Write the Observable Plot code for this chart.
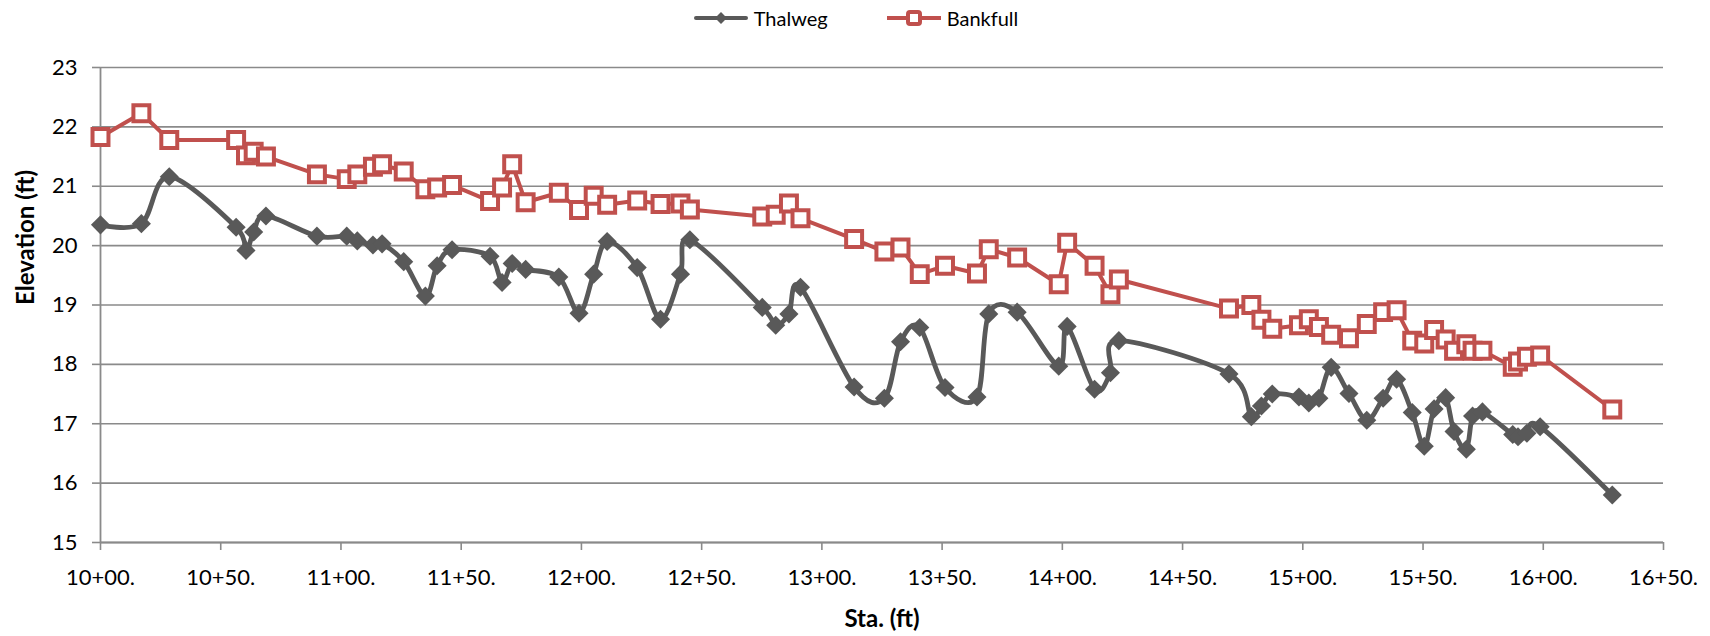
<!DOCTYPE html>
<html>
<head>
<meta charset="utf-8">
<script src="https://cdn.jsdelivr.net/npm/d3@7"></script>
<script src="https://cdn.jsdelivr.net/npm/@observablehq/plot@0.6"></script>
<style>
  html, body { margin: 0; padding: 0; background: #fff; }
  body { width: 1710px; font-family: Lato, "Open Sans", sans-serif; color: #000; }
  #legend { height: 36px; display: flex; justify-content: center; align-items: center; gap: 59px; font-size: 20px; padding-left: 2px; }
  .item { display: flex; align-items: center; gap: 6px; }
  .item svg { display: block; }
  #chart svg { display: block; }
</style>
</head>
<body>
<div id="legend"></div>
<div id="chart"></div>
<script>
// Survey stations along the reach (ft)
const stations = [
  1000, 1017, 1028.6, 1056.4, 1060.5, 1063.7, 1068.8, 1090, 1102.4, 1106.8,
  1113.3, 1117.1, 1126.1, 1135.1, 1140, 1146.2, 1162, 1167, 1171.2, 1176.8,
  1190.6, 1199, 1205.1, 1210.7, 1223.2, 1232.9, 1241.2, 1245.1, 1275.2, 1280.8,
  1286.3, 1291.1, 1313.4, 1326, 1332.7, 1340.7, 1351.2, 1364.5, 1369.4, 1381.2,
  1398.5, 1402, 1413.4, 1420, 1423.5, 1469.3, 1478.6, 1482.8, 1487.3, 1498.4,
  1502.5, 1506.7, 1511.8, 1519.2, 1526.6, 1533.4, 1539, 1545.5, 1550.5, 1554.6,
  1559.4, 1562.9, 1568, 1570.6, 1574.7, 1587.3, 1589.5, 1593.2, 1598.7, 1628.7
];

// Thalweg elevation (ft)
const thalweg = [
  20.35, 20.37, 21.16, 20.31, 19.92, 20.23, 20.5, 20.16, 20.16, 20.08,
  20.01, 20.03, 19.73, 19.15, 19.66, 19.93, 19.82, 19.38, 19.7, 19.6,
  19.47, 18.86, 19.52, 20.07, 19.63, 18.76, 19.52, 20.1, 18.96, 18.66,
  18.85, 19.3, 17.62, 17.43, 18.38, 18.62, 17.61, 17.45, 18.85, 18.88,
  17.97, 18.64, 17.58, 17.86, 18.4, 17.84, 17.12, 17.3, 17.5, 17.45,
  17.35, 17.43, 17.95, 17.51, 17.06, 17.43, 17.75, 17.19, 16.62, 17.25,
  17.44, 16.87, 16.57, 17.13, 17.2, 16.82, 16.78, 16.84, 16.95, 15.8
];

// Bankfull elevation (ft)
const bankfull = [
  21.83, 22.23, 21.78, 21.78, 21.52, 21.58, 21.5, 21.2, 21.12, 21.2,
  21.33, 21.37, 21.25, 20.95, 20.98, 21.02, 20.75, 20.98, 21.37, 20.73,
  20.89, 20.6, 20.84, 20.69, 20.76, 20.7, 20.71, 20.61, 20.49, 20.52,
  20.71, 20.46, 20.11, 19.9, 19.97, 19.52, 19.66, 19.53, 19.94, 19.8,
  19.35, 20.05, 19.66, 19.18, 19.43, 18.94, 19.0, 18.75, 18.6, 18.66,
  18.76, 18.63, 18.5, 18.44, 18.68, 18.88, 18.91, 18.4, 18.35, 18.58,
  18.42, 18.23, 18.34, 18.23, 18.23, 17.96, 18.05, 18.13, 18.15, 17.24
];

const xTicks = [1000, 1050, 1100, 1150, 1200, 1250, 1300, 1350, 1400, 1450, 1500, 1550, 1600, 1650];
const xTickLabels = ["10+00.", "10+50.", "11+00.", "11+50.", "12+00.", "12+50.", "13+00.",
                     "13+50.", "14+00.", "14+50.", "15+00.", "15+50.", "16+00.", "16+50."];
const yTicks = [15, 16, 17, 18, 19, 20, 21, 22, 23];
const yTickLabels = ["15", "16", "17", "18", "19", "20", "21", "22", "23"];

const seriesNames = ["Thalweg", "Bankfull"];
const rows = stations.map((s, i) => ({sta: s, thalweg: thalweg[i], bankfull: bankfull[i]}));

const gray = "#595959";
const red = "#C0504D";
const gridColor = "#8a8a8a";

// Legend
const legend = d3.select("#legend");
seriesNames.forEach((name, k) => {
  const item = legend.append("div").attr("class", "item");
  const sw = item.append("svg").attr("width", 54).attr("height", 20);
  if (k === 0) {
    sw.append("line").attr("x1", 2).attr("x2", 52).attr("y1", 10).attr("y2", 10)
      .attr("stroke", gray).attr("stroke-width", 4).attr("stroke-linecap", "round");
    sw.append("path").attr("d", d3.symbol(d3.symbolDiamond2, 90)()).attr("transform", "translate(27,10)").attr("fill", gray);
  } else {
    sw.append("line").attr("x1", 0).attr("x2", 54).attr("y1", 10).attr("y2", 10)
      .attr("stroke", red).attr("stroke-width", 4);
    sw.append("rect").attr("x", 21).attr("y", 4).attr("width", 12).attr("height", 12).attr("rx", 2)
      .attr("fill", "#fff").attr("stroke", red).attr("stroke-width", 4);
  }
  item.append("span").text(name);
});

const chart = Plot.plot({
  width: 1710,
  height: 600,
  marginLeft: 100,
  marginRight: 47,
  marginTop: 31,
  marginBottom: 94,
  style: {fontFamily: "Lato, 'Open Sans', sans-serif", fontSize: "22px", color: "#000", background: "#fff"},
  x: {domain: [1000, 1650]},
  y: {domain: [15, 23]},
  marks: [
    Plot.gridY(yTicks, {stroke: gridColor, strokeOpacity: 1, strokeWidth: 1.6}),
    Plot.ruleX([1000], {stroke: gridColor, strokeWidth: 1.8}),
    Plot.ruleY([15], {stroke: gridColor, strokeWidth: 1.8}),
    Plot.axisX(xTicks, {tickFormat: (d) => xTickLabels[xTicks.indexOf(d)], tickSize: 8, tickPadding: 19, stroke: gridColor, strokeWidth: 1.6, label: null, fill: "#000", fontSize: 22}),
    Plot.axisY(yTicks, {tickFormat: (d) => yTickLabels[yTicks.indexOf(d)], tickSize: 8, tickPadding: 15, stroke: gridColor, strokeWidth: 1.6, label: null, fill: "#000", fontSize: 22}),
    Plot.line(rows, {x: "sta", y: "thalweg", curve: "cardinal", stroke: gray, strokeWidth: 4.8}),
    Plot.dot(rows, {x: "sta", y: "thalweg", symbol: "diamond2", r: 8.6, fill: gray, stroke: "none"}),
    Plot.line(rows, {x: "sta", y: "bankfull", stroke: red, strokeWidth: 4}),
    Plot.dot(rows, {x: "sta", y: "bankfull", symbol: "square", r: 9, fill: "#fff", stroke: red, strokeWidth: 4}),
    Plot.text(["Sta. (ft)"], {frameAnchor: "bottom", dy: 84, fontWeight: "bold", fontSize: 24}),
    Plot.text(["Elevation (ft)"], {frameAnchor: "left", dx: -74, rotate: -90, fontWeight: "bold", fontSize: 24})
  ]
});
document.getElementById("chart").appendChild(chart);
</script>
</body>
</html>
